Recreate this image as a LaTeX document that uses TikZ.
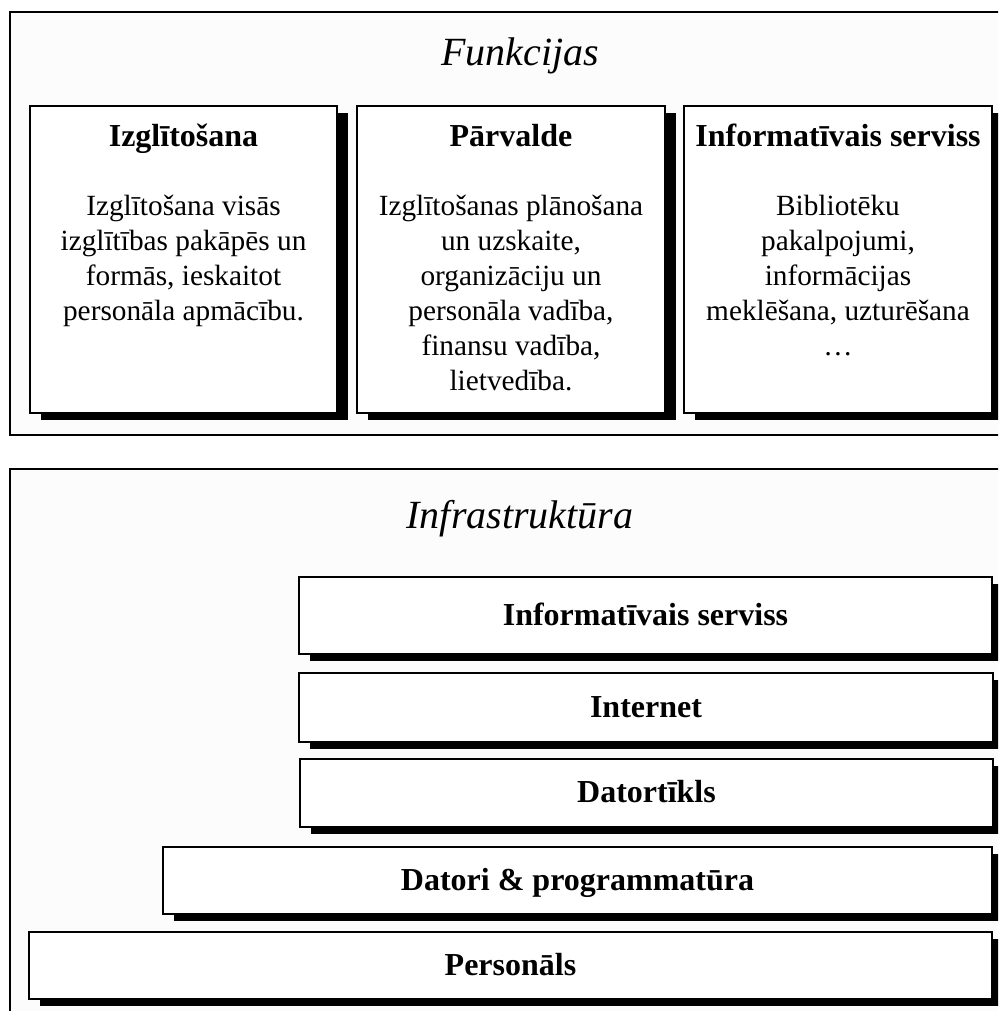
\documentclass[tikz,border=0pt]{standalone}
\usepackage{fontspec}
\setmainfont{Liberation Serif}
\usetikzlibrary{shadows}

% fixed height for the first line of a text block
\newcommand{\toprule}{\rule{0pt}{22pt}}

\begin{document}
\begin{tikzpicture}[x=1pt,y=-1pt,
  frame/.style={draw, line width=2pt, fill=black!1, rectangle, inner sep=0pt},
  frametitle/.style={anchor=base, inner sep=0pt, font=\fontsize{40}{46}\selectfont\itshape},
  card/.style={draw, line width=2pt, fill=white, rectangle, inner sep=0pt,
    drop shadow={opacity=1, fill=black, shadow xshift=10.5pt, shadow yshift=-7pt}},
  cardtitle/.style={anchor=base, inner sep=0pt, font=\fontsize{32}{38}\selectfont\bfseries},
  cardtext/.style={anchor=north, inner sep=0pt, align=center, font=\fontsize{29.3}{35}\selectfont},
  layer/.style={card, text height=21pt, text depth=2pt,
    font=\fontsize{32}{38}\selectfont\bfseries}
]
\useasboundingbox (0,0) rectangle (998,1011);
\clip (0,0) rectangle (998,1011);

% upper frame: functions
\node[frame, minimum width=1020pt, minimum height=423pt] (funk) at (520,223.5) {};
\node[frametitle] (funkt) at ([yshift=-55pt]funk.north) {Funkcijas};

\node[card, minimum width=307pt, minimum height=307pt] (c1) at (183.5,259.5) {};
\node[card, minimum width=308pt, minimum height=307pt] (c2) at (511,259.5) {};
\node[card, minimum width=308pt, minimum height=307pt] (c3) at (838,259.5) {};

\node[cardtitle] (c1t) at ([yshift=-42pt]c1.north) {Izglītošana};
\node[cardtitle] (c2t) at ([yshift=-42pt]c2.north) {Pārvalde};
\node[cardtitle] (c3t) at ([yshift=-42pt]c3.north) {Informatīvais serviss};

\node[cardtext] (c1b) at ([yshift=-88pt]c1.north)
  {\toprule Izglītošana visās\\izglītības pakāpēs un\\formās, ieskaitot\\personāla apmācību.};
\node[cardtext] (c2b) at ([yshift=-88pt]c2.north)
  {\toprule Izglītošanas plānošana\\un uzskaite,\\organizāciju un\\personāla vadība,\\finansu vadība,\\lietvedība.};
\node[cardtext] (c3b) at ([yshift=-88pt]c3.north)
  {\toprule Bibliotēku\\pakalpojumi,\\informācijas\\meklēšana, uzturēšana\\…};

% lower frame: infrastructure
\node[frame, minimum width=1020pt, minimum height=600pt] (infra) at (520,769) {};
\node[frametitle] (infrat) at ([yshift=-60pt]infra.north) {Infrastruktūra};

\node[layer, minimum width=693pt, minimum height=77pt] (l5) at (645.5,615.5) {Informatīvais serviss};
\node[layer, minimum width=694pt, minimum height=69pt] (l4) at (646,707.5) {Internet};
\node[layer, minimum width=693pt, minimum height=68pt] (l3) at (646.5,793) {Datortīkls};
\node[layer, minimum width=829pt, minimum height=67pt] (l2) at (577.5,880.5) {Datori \& programmatūra};
\node[layer, minimum width=963pt, minimum height=67pt] (l1) at (510.5,965.5) {Personāls};
\end{tikzpicture}
\end{document}
